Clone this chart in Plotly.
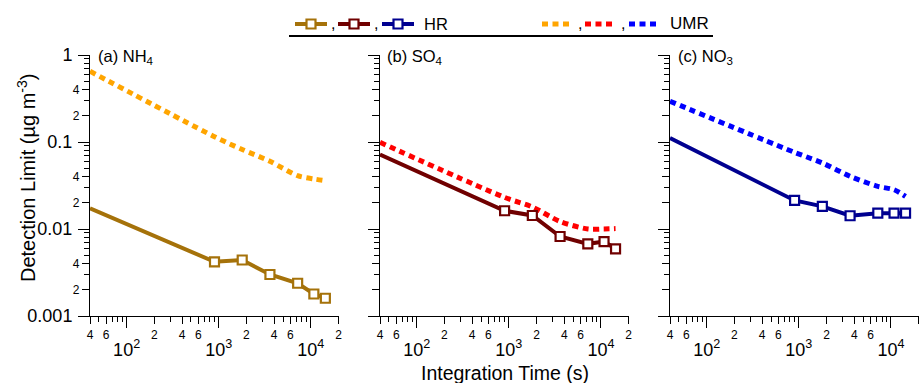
import math
import plotly.graph_objects as go

# ---------------- data ----------------
time_s = [40, 900, 1800, 3600, 7200, 10800, 14400]

nh4_hr = [0.0173, 0.0042, 0.0044, 0.0030, 0.00238, 0.00179, 0.0016]
nh4_umr = [0.65, 0.115, 0.082, 0.060, 0.041, 0.0376, 0.036]
so4_hr = [0.0716, 0.0162, 0.0143, 0.0082, 0.00675, 0.00717, 0.00592]
so4_umr = [0.099, 0.0231, 0.0179, 0.0122, 0.0100, 0.0100, 0.0101]
no3_hr = [0.111, 0.0213, 0.0182, 0.0142, 0.0152, 0.0152, 0.0152]
no3_umr = [0.294, 0.076, 0.0574, 0.0403, 0.0309, 0.0283, 0.0237]

panel_titles = ["(a) NH<sub>4</sub>", "(b) SO<sub>4</sub>", "(c) NO<sub>3</sub>"]
hr_colors = ["#A5720A", "#700000", "#000090"]
umr_colors = ["#FFA500", "#FF0000", "#0000FF"]

x_lab_vals = [40, 60, 200, 400, 600, 2000, 4000, 6000, 20000]
x_lab_text = ["4", "6", "2", "4", "6", "2", "4", "6", "2"]
x_minor_vals = [50, 70, 80, 90, 300, 500, 700, 800, 900,
                3000, 5000, 7000, 8000, 9000]
x_dec_vals = [100, 1000, 10000]
x_dec_text = ["10<sup>2</sup>", "10<sup>3</sup>", "10<sup>4</sup>"]

y_lab_vals = [0.4, 0.2, 0.04, 0.02, 0.004, 0.002]
y_lab_text = ["4", "2", "4", "2", "4", "2"]
y_minor_vals = [0.9, 0.8, 0.7, 0.6, 0.5, 0.3,
                0.09, 0.08, 0.07, 0.06, 0.05, 0.03,
                0.009, 0.008, 0.007, 0.006, 0.005, 0.003]
y_dec_vals = [1, 0.1, 0.01, 0.001]
y_dec_text = ["1", "0.1", "0.01", "0.001"]

# ---------------- layout helpers ----------------
W, H = 921, 383
FONT = "Liberation Sans, Arial, sans-serif"


def px(x):
    return x / W


def py(y):
    return (H - y) / H


x_domains = [[px(90), px(338.5)], [px(380), px(628.7)], [px(670), px(918.7)]]
y_domain = [py(316), py(55)]
x_range = [math.log10(40), math.log10(20000)]
y_range = [-3, 0]

fig = go.Figure()
panels = [(nh4_hr, nh4_umr), (so4_hr, so4_umr), (no3_hr, no3_umr)]

for i, (hr, umr) in enumerate(panels):
    n = i + 1
    xs = "x" if n == 1 else f"x{n}"
    ys = "y" if n == 1 else f"y{n}"
    fig.add_trace(go.Scatter(
        x=time_s, y=umr, mode="lines", xaxis=xs, yaxis=ys,
        line=dict(color=umr_colors[i], width=5, dash="6px,4.5px",
                  shape="spline", smoothing=0.8),
        cliponaxis=False, showlegend=False, hoverinfo="skip"))
    fig.add_trace(go.Scatter(
        x=time_s, y=hr, mode="lines+markers", xaxis=xs, yaxis=ys,
        line=dict(color=hr_colors[i], width=4),
        marker=dict(symbol="square", size=9, color="white",
                    line=dict(color=hr_colors[i], width=2.2)),
        cliponaxis=False, showlegend=False, hoverinfo="skip"))
    # invisible trace for overlay (decade) axes
    fig.add_trace(go.Scatter(
        x=[100], y=[0.01], mode="markers", xaxis=f"x{n+3}", yaxis=f"y{n+3}",
        marker=dict(opacity=0), showlegend=False, hoverinfo="skip"))

axis_common = dict(type="log", showgrid=False, zeroline=False,
                   ticks="outside", tickcolor="black", tickwidth=1,
                   color="black", automargin=False)

layout = dict(
    width=W, height=H,
    margin=dict(l=0, r=0, t=0, b=0, pad=0, autoexpand=False),
    paper_bgcolor="white", plot_bgcolor="rgba(0,0,0,0)",
    font=dict(family=FONT, color="black"),
)

for i in range(3):
    n = i + 1
    kx = "xaxis" if n == 1 else f"xaxis{n}"
    ky = "yaxis" if n == 1 else f"yaxis{n}"
    xs = "x" if n == 1 else f"x{n}"
    ys = "y" if n == 1 else f"y{n}"
    layout[kx] = dict(axis_common, domain=x_domains[i], range=x_range,
                      anchor=ys, showline=True, linecolor="black", linewidth=1.3,
                      tickmode="array", tickvals=x_lab_vals, ticktext=x_lab_text,
                      ticklen=7, tickfont=dict(size=12),
                      minor=dict(tickmode="array", tickvals=x_minor_vals,
                                 ticklen=5, ticks="outside",
                                 tickcolor="black", tickwidth=1))
    layout[ky] = dict(axis_common, domain=y_domain, range=y_range,
                      anchor=xs, showline=True, linecolor="black", linewidth=1.3,
                      tickmode="array", tickvals=y_lab_vals, ticktext=y_lab_text,
                      ticklen=7, tickfont=dict(size=12),
                      showticklabels=(n == 1),
                      minor=dict(tickmode="array", tickvals=y_minor_vals,
                                 ticklen=5, ticks="outside",
                                 tickcolor="black", tickwidth=1))
    # overlay axes with long decade ticks
    ox = f"xaxis{n+3}"
    oy = f"yaxis{n+3}"
    layout[ox] = dict(axis_common, domain=x_domains[i], range=x_range,
                      overlaying=xs, anchor=f"y{n+3}", showline=False,
                      tickmode="array", tickvals=x_dec_vals, ticktext=x_dec_text,
                      ticklen=11, tickfont=dict(size=18), ticklabelstandoff=6)
    layout[oy] = dict(axis_common, domain=y_domain, range=y_range,
                      overlaying=ys, anchor=f"x{n+3}", showline=False,
                      tickmode="array", tickvals=y_dec_vals, ticktext=y_dec_text,
                      ticklen=11, tickfont=dict(size=18),
                      showticklabels=(n == 1), ticklabelstandoff=2)

annotations = []
title_x = [96, 385, 676]
for i in range(3):
    annotations.append(dict(
        text=panel_titles[i], xref="paper", yref="paper",
        x=px(title_x[i]), y=py(57), xanchor="left", yanchor="middle",
        showarrow=False, font=dict(size=16.5)))

annotations.append(dict(
    text="Detection Limit (µg m<sup>-3</sup>)", xref="paper", yref="paper",
    x=px(26), y=py(178), textangle=-90, xanchor="center", yanchor="middle",
    showarrow=False, font=dict(size=20)))
annotations.append(dict(
    text="Integration Time (s)", xref="paper", yref="paper",
    x=px(505), y=py(373), xanchor="center", yanchor="middle",
    showarrow=False, font=dict(size=19.5)))

# ---------------- legend (drawn as shapes + text) ----------------
shapes = []
LY = 24
hr_swatches = [(295, 327), (338, 370), (382, 414)]
umr_swatches = [(542, 569), (585, 612), (629, 656)]
for (a, b), c in zip(hr_swatches, hr_colors):
    shapes.append(dict(type="line", xref="paper", yref="paper",
                       x0=px(a), x1=px(b), y0=py(LY), y1=py(LY),
                       line=dict(color=c, width=4)))
    m = (a + b) / 2
    shapes.append(dict(type="rect", xref="paper", yref="paper",
                       xsizemode="pixel", ysizemode="pixel",
                       xanchor=px(m), yanchor=py(LY),
                       x0=-4.5, x1=4.5, y0=-4.5, y1=4.5,
                       fillcolor="white", line=dict(color=c, width=2.2)))
for (a, b), c in zip(umr_swatches, umr_colors):
    shapes.append(dict(type="line", xref="paper", yref="paper",
                       x0=px(a), x1=px(b), y0=py(LY), y1=py(LY),
                       line=dict(color=c, width=5, dash="6px,4.5px")))
shapes.append(dict(type="line", xref="paper", yref="paper",
                   x0=px(289), x1=px(713), y0=py(36), y1=py(36),
                   line=dict(color="black", width=2)))

for cx in [333, 376, 580, 623]:
    annotations.append(dict(text=",", xref="paper", yref="paper",
                            x=px(cx), y=py(24), xanchor="center",
                            yanchor="middle", showarrow=False,
                            font=dict(size=16)))
annotations.append(dict(text="HR", xref="paper", yref="paper",
                        x=px(422), y=py(24), xanchor="left", yanchor="middle",
                        showarrow=False, font=dict(size=16.5)))
annotations.append(dict(text="UMR", xref="paper", yref="paper",
                        x=px(668), y=py(24), xanchor="left", yanchor="middle",
                        showarrow=False, font=dict(size=17)))

layout["annotations"] = annotations
layout["shapes"] = shapes
fig.update_layout(**layout)

fig.write_html(
    "out.html",
    config={"displayModeBar": False},
    post_script="document.body.style.margin='0px';"
                "document.body.style.overflow='hidden';",
)
